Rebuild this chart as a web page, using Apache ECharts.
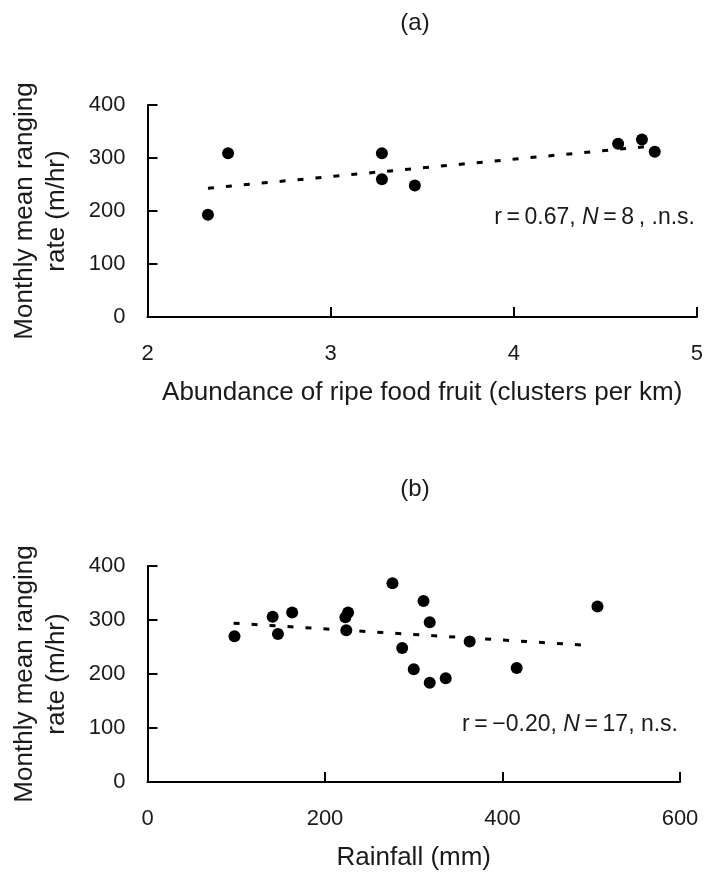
<!DOCTYPE html>
<html>
<head>
<meta charset="utf-8">
<script src="https://cdn.jsdelivr.net/npm/echarts@6/dist/echarts.min.js"></script>
<style>
html,body{margin:0;padding:0;background:#fff;}
#c{width:706px;height:872px;}
</style>
</head>
<body>
<div id="c"></div>
<script>
// Panel (a): abundance of ripe food fruit vs ranging rate
var fruitA = [2.33, 2.44, 3.28, 3.28, 3.46, 4.57, 4.70, 4.77];
var rateA  = [193, 309, 309, 260, 248, 327, 335, 312];
var trendAx = [2.33, 4.77];
var trendAy = [243, 323];

// Panel (b): rainfall vs ranging rate
var rainB = [98, 141, 147, 163, 223, 226, 224, 276, 311, 318, 287, 300, 318, 336, 363, 416, 507];
var rateB = [270, 306, 274, 314, 305, 314, 281, 368, 335, 296, 248, 209, 184, 192, 260, 211, 325];
var trendBx = [97, 497];
var trendBy = [294, 253];

var xTicksA = [2, 3, 4, 5];
var xTicksB = [0, 200, 400, 600];
var yTicks = [0, 100, 200, 300, 400];

var FONT = '"Liberation Sans", Arial, Helvetica, sans-serif';
var INK = '#000';
var TXT = '#1a1a1a';

function pairs(xs, ys){ return xs.map(function(x,i){ return [x, ys[i]]; }); }

function xAxis(gridIndex, ticks, name){
  return {
    type:'value', gridIndex:gridIndex,
    min: ticks[0], max: ticks[ticks.length-1], interval: ticks[1]-ticks[0],
    name: name, nameLocation:'middle', nameGap: 63,
    nameTextStyle:{fontFamily:FONT, fontSize:26, color:TXT},
    axisLine:{show:true, onZero:false, lineStyle:{color:INK, width:2}},
    axisTick:{show:true, inside:true, length:10, lineStyle:{color:INK, width:2}},
    axisLabel:{fontFamily:FONT, fontSize:22, color:TXT, margin:26},
    splitLine:{show:false}
  };
}
function yAxis(gridIndex){
  return {
    type:'value', gridIndex:gridIndex,
    min: yTicks[0], max: yTicks[yTicks.length-1], interval: yTicks[1]-yTicks[0],
    name: 'Monthly mean ranging\nrate (m/hr)', nameLocation:'middle', nameGap: 75, nameRotate: 90,
    nameTextStyle:{fontFamily:FONT, fontSize:26, color:TXT, lineHeight:32, align:'center'},
    axisLine:{show:true, onZero:false, lineStyle:{color:INK, width:2}},
    axisTick:{show:true, inside:true, length:10, lineStyle:{color:INK, width:2}},
    axisLabel:{fontFamily:FONT, fontSize:22, color:TXT, margin:22},
    splitLine:{show:false}
  };
}

var chart = echarts.init(document.getElementById('c'), null, {renderer:'canvas'});
chart.setOption({
  backgroundColor:'#fff',
  animation:false,
  grid:[
    {left:147.5, right:7, top:105, height:212},
    {left:147.5, right:26, top:566, height:217}
  ],
  xAxis:[
    xAxis(0, xTicksA, 'Abundance of ripe food fruit (clusters per km)'),
    xAxis(1, xTicksB, 'Rainfall (mm)')
  ],
  yAxis:[ yAxis(0), yAxis(1) ],
  series:[
    {type:'line', xAxisIndex:0, yAxisIndex:0, data:pairs(trendAx, trendAy), showSymbol:false,
     lineStyle:{color:INK, width:3, type:[6,12]}, z:2},
    {type:'scatter', xAxisIndex:0, yAxisIndex:0, data:pairs(fruitA, rateA), symbolSize:12,
     itemStyle:{color:INK, opacity:1}, z:3},
    {type:'line', xAxisIndex:1, yAxisIndex:1, data:pairs(trendBx, trendBy), showSymbol:false,
     lineStyle:{color:INK, width:3, type:[6,12]}, z:2},
    {type:'scatter', xAxisIndex:1, yAxisIndex:1, data:pairs(rainB, rateB), symbolSize:12,
     itemStyle:{color:INK, opacity:1}, z:3}
  ],
  graphic:[
    {type:'text', x:415, y:23, style:{text:'(a)', font:'24px '+FONT, fill:TXT, textAlign:'center', textVerticalAlign:'middle'}},
    {type:'text', x:415, y:489, style:{text:'(b)', font:'24px '+FONT, fill:TXT, textAlign:'center', textVerticalAlign:'middle'}},
    {type:'text', x:695, y:218, style:{
      text:'{n|r\u2009=\u20090.67, }{i|N}{n|\u2009=\u20098\u2009, .n.s.}',
      textAlign:'right', textVerticalAlign:'middle',
      rich:{n:{fontFamily:FONT, fontSize:23, fill:TXT, color:TXT}, i:{fontFamily:FONT, fontSize:23, fontStyle:'italic', fill:TXT, color:TXT}}}},
    {type:'text', x:678, y:725, style:{
      text:'{n|r\u2009=\u2009\u22120.20, }{i|N}{n|\u2009=\u200917, n.s.}',
      textAlign:'right', textVerticalAlign:'middle',
      rich:{n:{fontFamily:FONT, fontSize:23, fill:TXT, color:TXT}, i:{fontFamily:FONT, fontSize:23, fontStyle:'italic', fill:TXT, color:TXT}}}}
  ]
});
</script>
</body>
</html>
